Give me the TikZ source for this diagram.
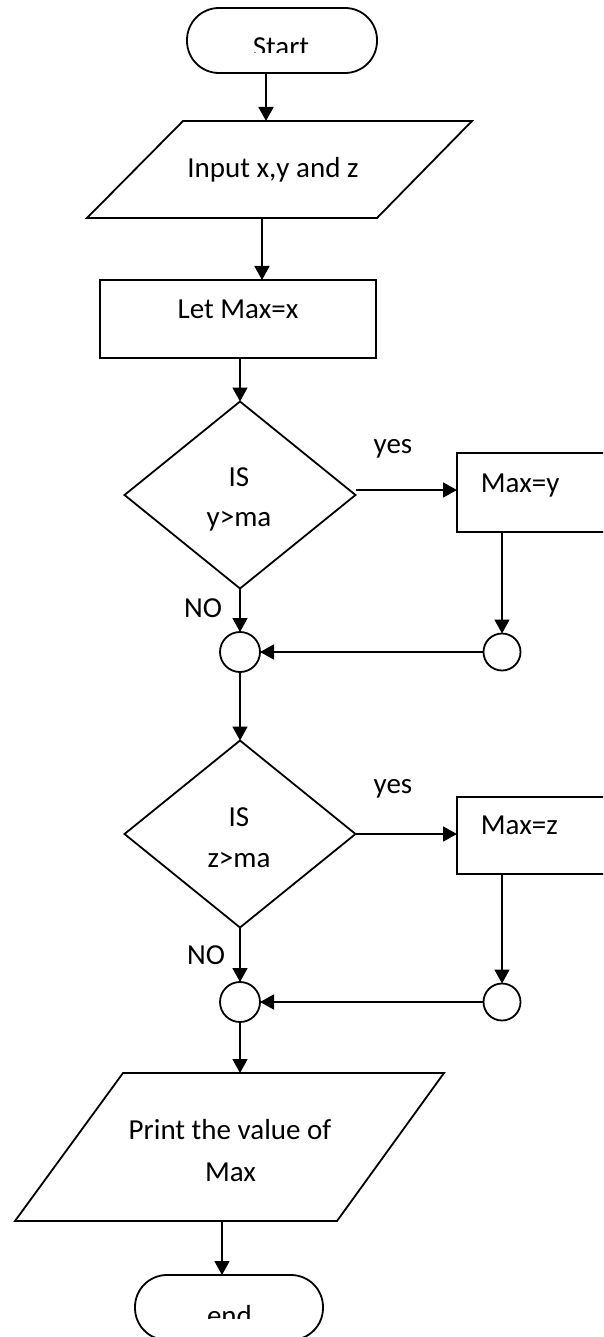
\documentclass[tikz,border=0pt]{standalone}
\usepackage{fontspec}
\setmainfont{Carlito}
\usetikzlibrary{arrows.meta,shapes.geometric}
\begin{document}
\begin{tikzpicture}[x=1pt,y=-1pt,
  line width=1.8pt,
  arr/.style={-{Triangle[length=14pt,width=15pt]}},
  shp/.style={draw, inner sep=0pt, outer sep=0pt},
  txt/.style={inner sep=0pt, anchor=base, font=\fontsize{29}{40}\selectfont},
  term/.style={shp, rectangle, rounded corners=32pt, minimum height=65pt},
  box/.style={shp, rectangle},
  dia/.style={shp, diamond, minimum width=231pt, minimum height=187pt},
  conn/.style={shp, circle},
]
\useasboundingbox (0,0) rectangle (603,1337);
\clip (0,0) rectangle (603,1337);

% Start
\node[term, minimum width=190pt] (start) at (282,40.5) {};
\begin{scope}
  \clip (200,0) rectangle (360,53);
  \node[txt] (tstart) at (281,56.5) {Start};
\end{scope}

% Input parallelogram
\coordinate (inA) at (183,121);
\coordinate (inB) at (472,121);
\coordinate (inC) at (377,218);
\coordinate (inD) at (87,218);
\draw (inA) -- (inB) -- (inC) -- (inD) -- cycle;
\node[txt] (tinput) at (273,178) {Input x,y and z};
\coordinate (inTop) at (266,121);
\coordinate (inBot) at (262,218);
\draw[arr] (start.south -| inTop) -- (inTop);

% Let Max=x
\node[box, minimum width=276pt, minimum height=78pt] (let) at (238,319) {};
\node[txt] (tlet) at (238,318) {Let Max=x};
\draw[arr] (inBot) -- (inBot |- let.north);

% Decision 1
\node[dia] (d1) at (240,495) {};
\node[txt] (tis1) at (239,486) {IS};
\node[txt] (tc1) at (239,526) {y>ma};
\draw[arr] (d1.north |- let.south) -- (d1.north);

\node[box, minimum width=170pt, minimum height=79pt] (my) at (542,492.5) {};
\node[txt, anchor=base west] (tmy) at (480,492) {Max=y};
\coordinate (y1) at ([yshift=5pt]d1.east);
\draw[arr] (y1) -- (y1 -| my.west);
\node[txt] (yes1) at (393,453) {yes};
\node[txt] (no1) at (203,617) {NO};

\node[conn, minimum size=37pt] (c1r) at (502,652) {};
\node[conn, minimum size=40pt] (c1l) at (240,652) {};
\draw[arr] (c1r.north |- my.south) -- (c1r.north);
\draw[arr] (c1r.west) -- (c1l.east);
\draw[arr] (d1.south) -- (d1.south |- c1l.north);

% Decision 2
\node[dia] (d2) at (240,834) {};
\node[txt] (tis2) at (239,826) {IS};
\node[txt] (tc2) at (239,867) {z>ma};
\draw[arr] (c1l.south) -- (c1l.south |- d2.north);

\node[box, minimum width=170pt, minimum height=77pt] (mz) at (542,835.5) {};
\node[txt, anchor=base west] (tmz) at (480,834) {Max=z};
\draw[arr] (d2.east) -- (d2.east -| mz.west);
\node[txt] (yes2) at (393,793) {yes};
\node[txt] (no2) at (206,964) {NO};

\node[conn, minimum size=37pt] (c2r) at (502,1002) {};
\node[conn, minimum size=40pt] (c2l) at (240,1002) {};
\draw[arr] (c2r.north |- mz.south) -- (c2r.north);
\draw[arr] (c2r.west) -- (c2l.east);
\draw[arr] (d2.south) -- (d2.south |- c2l.north);

% Print parallelogram
\coordinate (prA) at (123,1073);
\coordinate (prB) at (444,1073);
\coordinate (prC) at (337,1221);
\coordinate (prD) at (15,1221);
\draw (prA) -- (prB) -- (prC) -- (prD) -- cycle;
\node[txt] (tpr1) at (230,1139) {Print the value of};
\node[txt] (tpr2) at (230.5,1181) {Max};
\coordinate (prTop) at (240,1073);
\coordinate (prBot) at (222,1221);
\draw[arr] (c2l.south) -- (prTop);

% End
\node[term, minimum width=188pt] (end) at (229,1307.5) {};
\begin{scope}
  \clip (150,1280) rectangle (310,1318);
  \node[txt] (tend) at (229.5,1325) {end};
\end{scope}
\draw[arr] (prBot) -- (prBot |- end.north);
\end{tikzpicture}
\end{document}
